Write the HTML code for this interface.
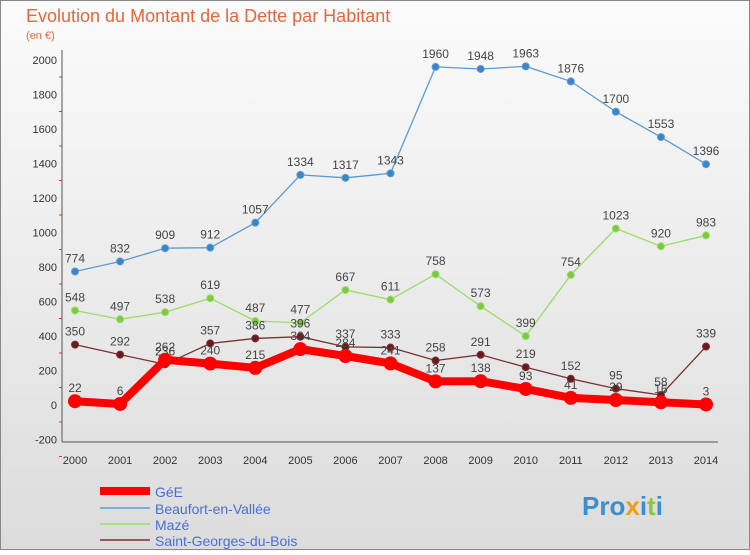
<!DOCTYPE html>
<html><head><meta charset="utf-8"><style>
body{margin:0;width:750px;height:550px;overflow:hidden;font-family:"Liberation Sans",sans-serif}
svg text{font-family:"Liberation Sans",sans-serif}
</style></head><body>
<svg width="750" height="550">
<defs><linearGradient id="bg" x1="0" y1="0" x2="0" y2="1"><stop offset="0" stop-color="#fbfbfb"/><stop offset="1" stop-color="#dcdcdc"/></linearGradient></defs>
<rect x="0.5" y="0.5" width="749" height="549" fill="url(#bg)" stroke="#888"/>
<text x="26" y="22" font-size="18" fill="#e8663c">Evolution du Montant de la Dette par Habitant</text>
<text x="26" y="39" font-size="11" fill="#e8663c">(en €)</text>
<g id="axes"></g><g id="series"></g>
<g>
<line x1="100" y1="491" x2="150" y2="491" stroke="#f00" stroke-width="8"/><text x="155" y="497" font-size="14" fill="#4a6fd4">GéE</text>
<line x1="100" y1="508" x2="150" y2="508" stroke="#5b9bd5" stroke-width="1.5"/><text x="155" y="514" font-size="14" fill="#4a6fd4">Beaufort-en-Vallée</text>
<line x1="100" y1="524" x2="150" y2="524" stroke="#99dd66" stroke-width="1.5"/><text x="155" y="530" font-size="14" fill="#4a6fd4">Mazé</text>
<line x1="100" y1="540" x2="150" y2="540" stroke="#7a3030" stroke-width="1.5"/><text x="155" y="546" font-size="14" fill="#4a6fd4">Saint-Georges-du-Bois</text>
</g>
<text x="582" y="515" font-size="26" font-weight="bold" fill="#3a8fd0">Pro<tspan fill="#f39c12">x</tspan>i<tspan fill="#8cc63f">t</tspan>i</text>
</svg>
<script>
const years=[2000,2001,2002,2003,2004,2005,2006,2007,2008,2009,2010,2011,2012,2013,2014];
const yTicks=[-200,0,200,400,600,800,1000,1200,1400,1600,1800,2000];
const gee=[22,6,262,240,215,324,284,241,137,138,93,41,29,16,3];
const beaufort=[774,832,909,912,1057,1334,1317,1343,1960,1948,1963,1876,1700,1553,1396];
const maze=[548,497,538,619,487,477,667,611,758,573,399,754,1023,920,983];
const stg=[350,292,236,357,386,396,337,333,258,291,219,152,95,58,339];
const NS="http://www.w3.org/2000/svg";
const X=i=>75+i*(706-75)/14;
const Y=v=>405-v*(405-60)/2000;
function mk(t,a,p){const e=document.createElementNS(NS,t);for(const k in a)e.setAttribute(k,a[k]);p.appendChild(e);return e;}
const ax=document.getElementById('axes');
yTicks.forEach(v=>{const l=mk('line',{x1:59,x2:62,y1:Y(v)+17,y2:Y(v)+17,stroke:'#e33'},ax);


const t=mk('text',{x:57,y:Y(v)+4,'font-size':11,'text-anchor':'end',fill:'#333'},ax);t.textContent=v;

});
mk('line',{x1:62,x2:62,y1:50,y2:442,stroke:'#555'},ax);
mk('line',{x1:62,x2:718,y1:442,y2:442,stroke:'#555'},ax);
years.forEach((y,i)=>{const t=mk('text',{x:X(i),y:464,'font-size':11,'text-anchor':'middle',fill:'#333'},ax);t.textContent=y;

});
const sg=document.getElementById('series');
function draw(d,col,w,r,name,dot){const g=mk('g',{},sg);


mk('polyline',{points:d.map((v,i)=>X(i)+','+Y(v)).join(' '),fill:'none',stroke:col,'stroke-width':w,'stroke-linejoin':'round'},g);
d.forEach((v,i)=>{const c=mk('circle',{cx:X(i),cy:Y(v),r:r,fill:dot,stroke:col},g);


const t=mk('text',{x:X(i),y:Y(v)-9,'font-size':12,'text-anchor':'middle',fill:'#444'},g);t.textContent=v;

});}
draw(beaufort,'#5b9bd5',1.3,3.5,'series-beaufort','#3a85c8');
draw(maze,'#99dd66',1.3,3.5,'series-maze','#7cc942');
draw(stg,'#7a3030',1.3,3.5,'series-saint-georges','#6a1a1a');
draw(gee,'#f00',8,6.5,'series-gee','#f00');
</script>
</body></html>
